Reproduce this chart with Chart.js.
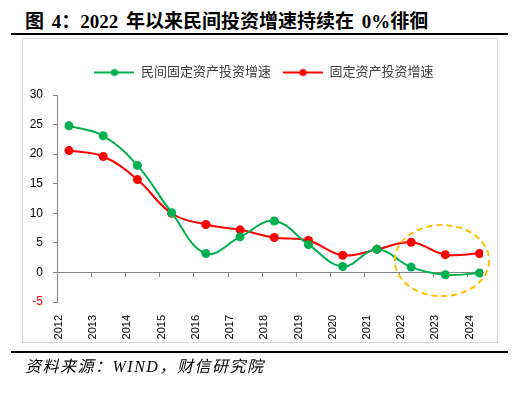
<!DOCTYPE html>
<html>
<head>
<meta charset="utf-8">
<script src="https://cdn.jsdelivr.net/npm/chart.js@4.4.0/dist/chart.umd.min.js"></script>
<style>
  html, body { margin: 0; padding: 0; background: #fff; }
  body { width: 525px; height: 393px; position: relative; overflow: hidden; }
  #title {
    position: absolute; left: 25px; top: 12px;
    font: bold 19px/19px "Liberation Serif", "Noto Sans CJK SC", serif;
    word-spacing: 3px; color: #000; white-space: nowrap;
  }
  .rule { position: absolute; left: 11px; width: 497px; height: 2px; background: #000; }
  #box { position: absolute; left: 22px; top: 38px; width: 474px; height: 303px; border: 1px solid #d9d9d9; }
  #chart { position: absolute; left: 0; top: 0; }
  #source {
    position: absolute; left: 25px; top: 359px;
    font: italic 16px/16px "Liberation Serif", "Noto Sans CJK SC", serif;
    letter-spacing: 1.5px; color: #000; white-space: nowrap;
  }
</style>
</head>
<body>
<div id="title">图 4：2022 年以来民间投资增速持续在 0%徘徊</div>
<div class="rule" style="top:33px"></div>
<div id="box"></div>
<canvas id="chart" width="525" height="393"></canvas>
<div class="rule" style="top:351px"></div>
<div id="source">资料来源：WIND，财信研究院</div>

<script>
const years = ['2012', '2013', '2014', '2015', '2016', '2017', '2018', '2019', '2020', '2021', '2022', '2023', '2024'];
const privateGrowth = [24.8, 23.1, 18.1, 10.1, 3.2, 6.0, 8.7, 4.7, 1.0, 3.9, 0.9, -0.4, -0.1];
const totalGrowth = [20.6, 19.6, 15.7, 10.0, 8.1, 7.2, 5.9, 5.4, 2.9, 3.9, 5.1, 3.0, 3.2];
const yTicks = [-5, 0, 5, 10, 15, 20, 25, 30];
const seriesNames = ['民间固定资产投资增速', '固定资产投资增速'];

// in the source chart the markers sit a bit right of each year's tick
const POINT_SHIFT = 0.35;
const X_MIN = 2012 - POINT_SHIFT;
const X_MAX = 2024 + 0.1;

Chart.defaults.font.family = '"Liberation Sans", "Noto Sans CJK SC", sans-serif';

function toPoints(values) {
    return values.map((v, i) => ({ x: Number(years[i]), y: v }));
}

function yearTicks(scale) {
    scale.ticks = years.map(y => ({ value: Number(y) - POINT_SHIFT }));
}

// line with a dot, used as the legend marker
function legendMarker(color) {
    const c = document.createElement('canvas');
    c.width = 40;
    c.height = 10;
    const g = c.getContext('2d');
    g.strokeStyle = color;
    g.lineWidth = 2;
    g.beginPath();
    g.moveTo(0, 5);
    g.lineTo(40, 5);
    g.stroke();
    g.fillStyle = color;
    g.beginPath();
    g.arc(20, 5, 3.6, 0, Math.PI * 2);
    g.fill();
    return c;
}

// dashed oval round the last three years
const highlightOval = {
    id: 'highlightOval',
    afterDatasetsDraw(chart) {
        const { ctx, scales: { x, y } } = chart;
        const cx = x.getPixelForValue(2022.9);
        const cy = y.getPixelForValue(2.0);
        const rx = x.getPixelForValue(2022.9 + 1.38) - cx;
        const ry = cy - y.getPixelForValue(2.0 + 6);
        ctx.save();
        ctx.strokeStyle = '#FFC000';
        ctx.lineWidth = 2;
        ctx.setLineDash([6, 4]);
        ctx.beginPath();
        ctx.ellipse(cx, cy, rx, ry, 0, 0, Math.PI * 2);
        ctx.stroke();
        ctx.restore();
    }
};

// move the legend a little up and left, where it sits in the source
const legendNudge = {
    id: 'legendNudge',
    afterLayout(chart) {
        const l = chart.legend;
        if (l) {
            l.top -= 6;
            l.bottom -= 6;
            l.left -= 6;
            l.right -= 6;
        }
    }
};

new Chart(document.getElementById('chart'), {
    type: 'line',
    data: {
        datasets: [
            {
                label: seriesNames[0],
                data: toPoints(privateGrowth),
                borderColor: '#00B050',
                backgroundColor: '#00B050',
                borderWidth: 2,
                pointRadius: 4.5,
                pointBorderWidth: 0,
                tension: 0.4
            },
            {
                label: seriesNames[1],
                data: toPoints(totalGrowth),
                borderColor: '#FF0000',
                backgroundColor: '#FF0000',
                borderWidth: 2,
                pointRadius: 4.5,
                pointBorderWidth: 0,
                tension: 0.4
            }
        ]
    },
    options: {
        responsive: false,
        animation: false,
        layout: { padding: { left: 22, right: 42, top: 60, bottom: 51 } },
        scales: {
            x: {
                type: 'linear',
                position: { y: 0 },
                min: X_MIN,
                max: X_MAX,
                afterBuildTicks: yearTicks,
                ticks: { display: false },
                grid: { drawOnChartArea: false, drawTicks: true, tickLength: 4, color: '#868686' },
                border: { color: '#868686', width: 1 }
            },
            xLabels: {
                type: 'linear',
                axis: 'x',
                position: 'bottom',
                min: X_MIN,
                max: X_MAX,
                afterBuildTicks: yearTicks,
                afterFit: scale => { scale.height = 40; },
                ticks: {
                    autoSkip: false,
                    minRotation: 90,
                    maxRotation: 90,
                    padding: 5,
                    labelOffset: 2,
                    color: '#000',
                    font: { size: 11 },
                    callback: (value, index) => years[index]
                },
                grid: { display: false },
                border: { display: false }
            },
            y: {
                min: -5,
                max: 30,
                afterBuildTicks: scale => { scale.ticks = yTicks.map(v => ({ value: v })); },
                afterFit: scale => { scale.width = 35; },
                ticks: {
                    padding: 10,
                    font: { size: 12 },
                    color: ctx => ctx.tick.value < 0 ? '#FF0000' : '#000'
                },
                grid: { drawOnChartArea: false, tickLength: 4, color: '#868686' },
                border: { color: '#868686', width: 1 }
            }
        },
        plugins: {
            legend: {
                position: 'top',
                fullSize: false,
                labels: {
                    usePointStyle: true,
                    pointStyleWidth: 40,
                    padding: 12,
                    color: '#404040',
                    font: { size: 13 },
                    generateLabels: chart => chart.data.datasets.map((ds, i) => ({
                        text: ds.label,
                        pointStyle: legendMarker(ds.borderColor),
                        fontColor: '#404040',
                        fillStyle: ds.borderColor,
                        strokeStyle: ds.borderColor,
                        lineWidth: 0,
                        hidden: false,
                        datasetIndex: i
                    }))
                }
            },
            tooltip: { enabled: false }
        }
    },
    plugins: [highlightOval, legendNudge]
});
</script>
</body>
</html>
